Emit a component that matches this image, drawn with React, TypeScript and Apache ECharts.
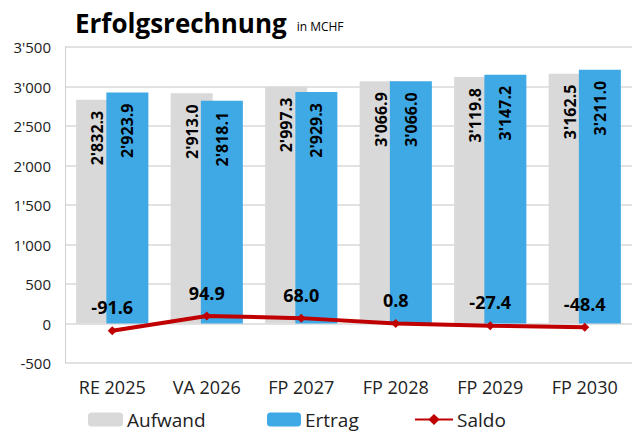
import React, { useEffect, useRef } from "react";
import * as echarts from "echarts";

const categories = ["RE 2025", "VA 2026", "FP 2027", "FP 2028", "FP 2029", "FP 2030"];
const aufwand = [2832.3, 2913.0, 2997.3, 3066.9, 3119.8, 3162.5];
const ertrag = [2923.9, 2818.1, 2929.3, 3066.0, 3147.2, 3211.0];
const saldo = [-91.6, 94.9, 68.0, 0.8, -27.4, -48.4];
const seriesNames = ["Aufwand", "Ertrag", "Saldo"];

const FONT = "'Open Sans', 'Noto Sans', sans-serif";

function fmt(v: number, dec: number): string {
  const neg = v < 0;
  const s = Math.abs(v).toFixed(dec);
  const [int, frac] = s.split(".");
  const withSep = int.replace(/\B(?=(\d{3})+(?!\d))/g, "'");
  return (neg ? "-" : "") + withSep + (frac !== undefined ? "." + frac : "");
}

export default function App() {
  const ref = useRef<HTMLDivElement>(null);
  useEffect(() => {
    if (!ref.current) return;
    const chart = echarts.init(ref.current, null, { renderer: "svg" });
    const barLabel = {
      show: true,
      position: "insideTop",
      rotate: 90,
      align: "right",
      verticalAlign: "middle",
      distance: 11,
      fontFamily: FONT,
      fontWeight: "bold",
      fontSize: 16,
      color: "#000",
      formatter: (p: any) => fmt(p.value, 1),
    };
    const legendBase = {
      top: 405,
      itemHeight: 14,
      itemGap: 0,
      textStyle: { fontFamily: FONT, fontSize: 19, color: "#222", padding: [0, 0, 0, -1] },
    };
    chart.setOption({
      animation: false,
      backgroundColor: "#fff",
      title: {
        text: "{a|Erfolgsrechnung}  {b|in MCHF}",
        left: 70,
        top: 5,
        textStyle: {
          rich: {
            a: { fontFamily: FONT, fontWeight: "bold", fontSize: 26, color: "#000" },
            b: {
              fontFamily: FONT,
              fontWeight: "normal",
              fontSize: 12,
              color: "#000",
              padding: [7, 0, 0, 0],
            },
          },
        },
      },
      legend: [
        { ...legendBase, left: 83, itemWidth: 35, data: [seriesNames[0]] },
        { ...legendBase, left: 262, itemWidth: 34, data: [seriesNames[1]] },
        { ...legendBase, left: 409, itemWidth: 38, data: [seriesNames[2]] },
      ],
      grid: { left: 65, right: -9, top: 47, bottom: 69, containLabel: false },
      xAxis: {
        type: "category",
        data: categories,
        axisLine: { show: false },
        axisTick: { show: false },
        axisLabel: { fontFamily: FONT, fontSize: 18, color: "#222", margin: 15 },
      },
      yAxis: {
        type: "value",
        min: -500,
        max: 3500,
        interval: 500,
        axisLine: { show: true, lineStyle: { color: "#d0d0d0", width: 1 } },
        axisTick: { show: false },
        splitLine: { lineStyle: { color: "#d9d9d9", width: 1.5 } },
        axisLabel: {
          fontFamily: FONT,
          fontSize: 15,
          color: "#222",
          margin: 14,
          formatter: (v: number) => fmt(v, 0),
        },
      },
      series: [
        {
          name: seriesNames[0],
          type: "bar",
          data: aufwand,
          barWidth: 42,
          barGap: "-28%",
          itemStyle: { color: "#d9d9d9" },
          label: barLabel,
        },
        {
          name: seriesNames[1],
          type: "bar",
          data: ertrag,
          barWidth: 42,
          itemStyle: { color: "#3fa9e6" },
          label: barLabel,
        },
        {
          name: seriesNames[2],
          type: "line",
          data: saldo,
          symbol: "diamond",
          symbolSize: 9,
          z: 5,
          lineStyle: { color: "#c00000", width: 4 },
          itemStyle: { color: "#c00000" },
          label: {
            show: true,
            position: "top",
            distance: 10,
            fontFamily: FONT,
            fontWeight: "bold",
            fontSize: 18,
            color: "#000",
            formatter: (p: any) => fmt(p.value, 1),
          },
        },
      ],
    });
    return () => chart.dispose();
  }, []);
  return (
    <div
      ref={ref}
      style={{ position: "fixed", left: 0, top: 0, width: 632, height: 432 }}
    />
  );
}
